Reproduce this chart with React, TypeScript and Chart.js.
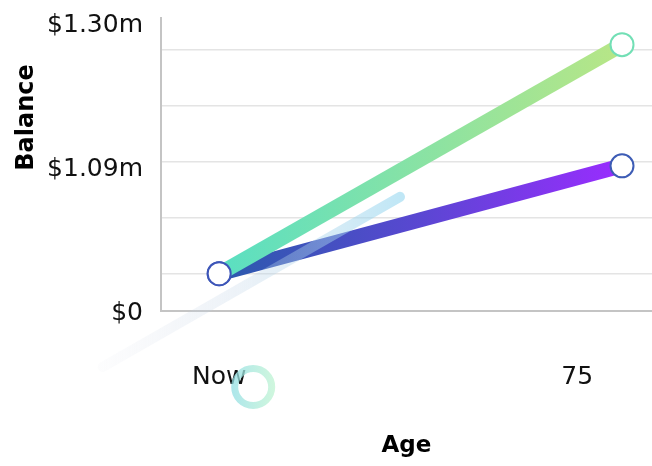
import React, { useEffect, useRef } from 'react';
import { Chart, registerables } from 'chart.js';

Chart.register(...registerables);

// ---- data ----
const ages = [35, 80]; // "Now" (assumed age 35) to end of projection
const xTickValues = [35, 75];
const xTickLabels = ['Now', '75'];
const projectedBalance = [0.28, 2.0]; // green line ($m)
const currentBalance = [0.28, 1.09]; // purple line ($m)
const yLabelValues = [0, 1.075, 2.157];
const yLabels = ['$0', '$1.09m', '$1.30m'];
const yGridValues = [0.28, 0.7, 1.12, 1.54, 1.96];
const xRange = [28.5, 83.35];
const yRange = [0, 2.2];
// decorative background marks
const decorLineX = [22.0, 55.2];
const decorLineY = [-0.42, 0.857];
const decorRingX = [38.8];
const decorRingY = [-0.571];

const FONT = 'DejaVu Sans';

function hGrad(chart: any, x0: number, x1: number, stops: [number, string][]) {
  const g = chart.ctx.createLinearGradient(x0, 0, x1, 0);
  stops.forEach(([o, c]) => g.addColorStop(o, c));
  return g;
}

function gradFor(xs: number[], stops: [number, string][], fallback: string) {
  return (c: any) => {
    const ch = c.chart;
    const sx = ch.scales && ch.scales.x;
    if (!sx || !ch.chartArea) return fallback;
    const a = sx.getPixelForValue(xs[0]);
    const b = sx.getPixelForValue(xs[xs.length - 1]);
    if (!isFinite(a) || !isFinite(b) || a === b) return fallback;
    return hGrad(ch, a, b, stops);
  };
}

const yTitlePlugin = {
  id: 'yTitle',
  afterDraw(chart: any) {
    const { ctx, chartArea } = chart;
    ctx.save();
    ctx.translate(chartArea.left - 128, chartArea.top + 99.5);
    ctx.rotate(-Math.PI / 2);
    ctx.font = `bold 24px "${FONT}"`;
    ctx.fillStyle = '#000';
    ctx.textAlign = 'center';
    ctx.textBaseline = 'alphabetic';
    ctx.fillText('Balance', 0, 0);
    ctx.restore();
  },
};

// draws the decorative ring dataset's point even though it lies below the plot area
const ringPlugin = {
  id: 'ringOutside',
  afterDatasetsDraw(chart: any) {
    chart.data.datasets.forEach((ds: any, i: number) => {
      if (!ds.drawOutside) return;
      const meta = chart.getDatasetMeta(i);
      meta.data.forEach((el: any) => el.draw(chart.ctx));
    });
  },
};

export default function App() {
  const ref = useRef<HTMLCanvasElement>(null);
  useEffect(() => {
    if (!ref.current) return;
    const chart = new Chart(ref.current, {
      type: 'line',
      data: {
        datasets: [
          {
            label: 'decor line',
            data: decorLineX.map((x, i) => ({ x, y: decorLineY[i] })),
            borderColor: gradFor(decorLineX, [[0, 'rgba(200,206,222,0.05)'], [0.45, 'rgba(190,210,230,0.28)'], [1, 'rgba(150,215,240,0.6)']], 'rgba(150,215,240,0.5)'),
            borderWidth: 10,
            borderCapStyle: 'round',
            pointRadius: 0,
            clip: false,
          } as any,
          {
            label: 'Projected',
            data: ages.map((x, i) => ({ x, y: projectedBalance[i] })),
            borderColor: gradFor(ages, [[0, '#5adfc2'], [1, '#b8e686']], '#8ee3a5'),
            borderWidth: 15,
            borderCapStyle: 'butt',
            pointRadius: 11.5,
            pointBorderWidth: 2,
            pointBackgroundColor: '#ffffff',
            pointBorderColor: ['#3d55b8', '#72dfb5'],
            clip: false,
          } as any,
          {
            label: 'Current',
            data: ages.map((x, i) => ({ x, y: currentBalance[i] })),
            borderColor: gradFor(ages, [[0, '#2a5aac'], [0.5, '#5a47d2'], [1, '#9a2cff']], '#5a47d2'),
            borderWidth: 15,
            borderCapStyle: 'butt',
            pointRadius: 11.5,
            pointBorderWidth: 2,
            pointBackgroundColor: '#ffffff',
            pointBorderColor: '#3d5cb5',
            clip: false,
          } as any,
          {
            label: 'decor ring',
            drawOutside: true,
            data: decorRingX.map((x, i) => ({ x, y: decorRingY[i] })),
            showLine: false,
            pointRadius: 18.5,
            pointBorderWidth: 7,
            pointBackgroundColor: 'rgba(0,0,0,0)',
            pointBorderColor: (c: any) => {
              const ch = c.chart;
              const sx = ch.scales && ch.scales.x;
              if (!sx || !ch.chartArea) return '#b8eedd';
              const cx = sx.getPixelForValue(decorRingX[0]);
              return hGrad(ch, cx - 22, cx + 22, [[0, 'rgba(145,222,228,0.75)'], [1, 'rgba(192,244,210,0.75)']]);
            },
            clip: false,
          } as any,
        ],
      },
      options: {
        responsive: false,
        animation: false,
        events: [],
        layout: { autoPadding: false, padding: { top: 18, left: 0, right: 0, bottom: 0 } },
        plugins: { legend: { display: false }, tooltip: { enabled: false } },
        scales: {
          x: {
            type: 'linear',
            min: xRange[0],
            max: xRange[1],
            z: 1,
            afterBuildTicks: (s: any) => {
              s.ticks = xTickValues.map((v) => ({ value: v }));
            },
            afterFit: (s: any) => {
              s.height = 155;
              s.paddingLeft = 0;
              s.paddingRight = 0;
            },
            grid: { display: false, drawTicks: false },
            border: { display: true, color: '#c4c4c4', width: 2 },
            ticks: {
              autoSkip: false,
              maxRotation: 0,
              padding: 51,
              color: '#111',
              font: { family: FONT, size: 25 },
              callback: (v: any) => {
                const i = xTickValues.indexOf(v);
                return i >= 0 ? xTickLabels[i] : '';
              },
            },
            title: {
              display: true,
              text: 'Age',
              color: '#000',
              font: { family: FONT, size: 23, weight: 'bold' },
              padding: { top: 0, bottom: 6 },
            },
          },
          y: {
            type: 'linear',
            min: yRange[0],
            max: yRange[1],
            afterBuildTicks: (s: any) => {
              s.ticks = [...yLabelValues, ...yGridValues]
                .sort((a, b) => a - b)
                .map((v) => ({ value: v }));
            },
            afterFit: (s: any) => {
              s.width = 161;
              s.paddingTop = 0;
              s.paddingBottom = 0;
            },
            grid: {
              drawTicks: false,
              lineWidth: 1.5,
              color: (c: any) =>
                c.tick && yGridValues.includes(c.tick.value) ? '#e4e4e4' : 'rgba(0,0,0,0)',
            },
            border: { display: true, color: '#c4c4c4', width: 2 },
            ticks: {
              autoSkip: false,
              padding: 18,
              labelOffset: 2,
              color: '#111',
              font: { family: FONT, size: 25 },
              callback: (v: any) => {
                const i = yLabelValues.indexOf(v);
                return i >= 0 ? yLabels[i] : '';
              },
            },
          },
        },
      },
      plugins: [yTitlePlugin, ringPlugin],
    } as any);
    return () => chart.destroy();
  }, []);
  return (
    <div style={{ position: 'absolute', left: 0, top: 0, width: 652, height: 466 }}>
      <canvas ref={ref} width={652} height={466} style={{ display: 'block' }} />
    </div>
  );
}
